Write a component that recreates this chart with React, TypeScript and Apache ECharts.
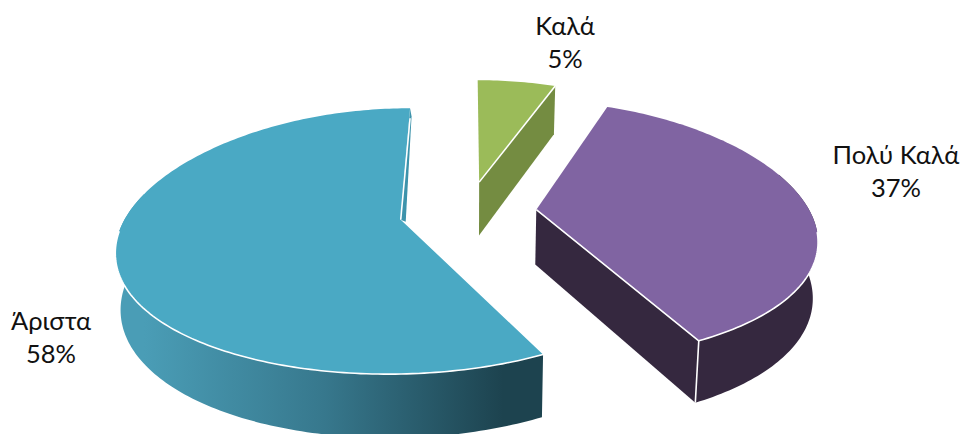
import React, { useEffect, useRef } from "react";
import * as echarts from "echarts";

const categories = ["Καλά", "Πολύ Καλά", "Άριστα"];
const percents = [5.4, 36.8, 57.8];
const topColors = ["#9BBB59", "#8064A2", "#4AA9C4"];
const wallColors = ["#748C41", "#35283F", "#3D93AB"];
const labelCenters = [[565, 41], [896, 170], [51, 336]];

const VX = 468, VY = 212, A = 277, B = 127, P = 0.16, EXPLODE = 0.248, H = 55, K = 0.985, DROOP = 7;
const rad = (d: number) => (d * Math.PI) / 180;

function sliceAngles(i: number) {
  const total = percents.reduce((s, v) => s + v, 0);
  const before = percents.slice(0, i).reduce((s, v) => s + v, 0);
  const start = (before / total) * 360;
  return [start, start + (percents[i] / total) * 360];
}

function project(X: number, Z: number, bottom: boolean) {
  const w = 1 - P * Z;
  if (!bottom) return [VX + (A * X) / w, VY + (B * Z) / w];
  return [VX + (A * K * X) / w, VY + (B * K * Z) / w + H / w];
}

function makeRenderItem() {
  return (params: any, api: any) => {
    const i = params.dataIndex;
    api.value(0);
    const [s, e] = sliceAngles(i);
    const mid = rad((s + e) / 2);
    const ox = EXPLODE * Math.sin(mid);
    const oz = -EXPLODE * Math.cos(mid);
    const rim = (t: number, bottom = false) => {
      const p = project(ox + Math.sin(rad(t)), oz - Math.cos(rad(t)), bottom);
      return [p[0], p[1] + DROOP * Math.sin(rad(t)) ** 2];
    };
    const apex = (bottom = false) => project(ox, oz, bottom);
    const arc = (a: number, b: number, bottom = false) => {
      const n = Math.max(2, Math.ceil(Math.abs(b - a)));
      const out: number[][] = [];
      for (let k = 0; k <= n; k++) out.push(rim(a + ((b - a) * k) / n, bottom));
      return out;
    };
    const children: any[] = [];
    const poly = (points: number[][], fill: any) =>
      children.push({ type: "polygon", shape: { points }, style: { fill, stroke: "none" } });
    const whiteLine = (points: number[][], lineWidth = 1.6) =>
      children.push({ type: "polyline", shape: { points }, style: { stroke: "#ffffff", lineWidth, fill: "none" } });

    if (i === 0) {
      poly([apex(), rim(e), rim(e, true), apex(true)], wallColors[i]);
      poly([apex(), ...arc(s, e)], topColors[i]);
      whiteLine([apex(), rim(e)]);
    } else if (i === 1) {
      poly([...arc(70, e), ...arc(e, 70, true)], wallColors[i]);
      poly([apex(), rim(e), rim(e, true), apex(true)], wallColors[i]);
      poly([apex(), ...arc(s, e)], topColors[i]);
      whiteLine([apex(), rim(e), rim(e, true)]);
      whiteLine(arc(e, 97));
    } else {
      const grad = new echarts.graphic.LinearGradient(
        rim(285)[0], 0, rim(s)[0], 0,
        [
          { offset: 0, color: "#4A9DB6" },
          { offset: 0.45, color: "#37788D" },
          { offset: 0.9, color: "#1D434F" },
          { offset: 1, color: "#1D434F" },
        ],
        true
      );
      poly([...arc(s, 285), ...arc(285, s, true)], grad);
      const a = apex();
      const b = rim(e);
      poly([a, b, [b[0] + 1.5, b[1] + 8], [a[0] + 5, a[1] + 2]], wallColors[i]);
      poly([a, ...arc(s, e)], topColors[i]);
      whiteLine(arc(s, 268));
      whiteLine([a, [b[0], b[1] + 10]]);
    }
    const [lx, ly] = labelCenters[i];
    children.push({
      type: "text",
      x: lx,
      y: ly,
      style: {
        text: `${categories[i]}\n${Math.round(percents[i])}%`,
        fill: "#111111",
        fontFamily: "Lato, 'Open Sans', sans-serif",
        fontSize: 25.5,
        lineHeight: 33,
        align: "center",
        verticalAlign: "middle",
      },
    });
    return { type: "group", children };
  };
}

export default function App() {
  const ref = useRef<HTMLDivElement>(null);
  useEffect(() => {
    document.body.style.margin = "0";
    const chart = echarts.init(ref.current!, undefined, { renderer: "svg" });
    chart.setOption({
      animation: false,
      backgroundColor: "#ffffff",
      series: [
        {
          type: "custom",
          coordinateSystem: "none",
          silent: true,
          clip: false,
          data: percents.map((v, i) => ({ name: categories[i], value: [v] })),
          renderItem: makeRenderItem(),
        },
      ],
    });
    return () => chart.dispose();
  }, []);
  return <div ref={ref} style={{ width: 964, height: 434, overflow: "hidden" }} />;
}
